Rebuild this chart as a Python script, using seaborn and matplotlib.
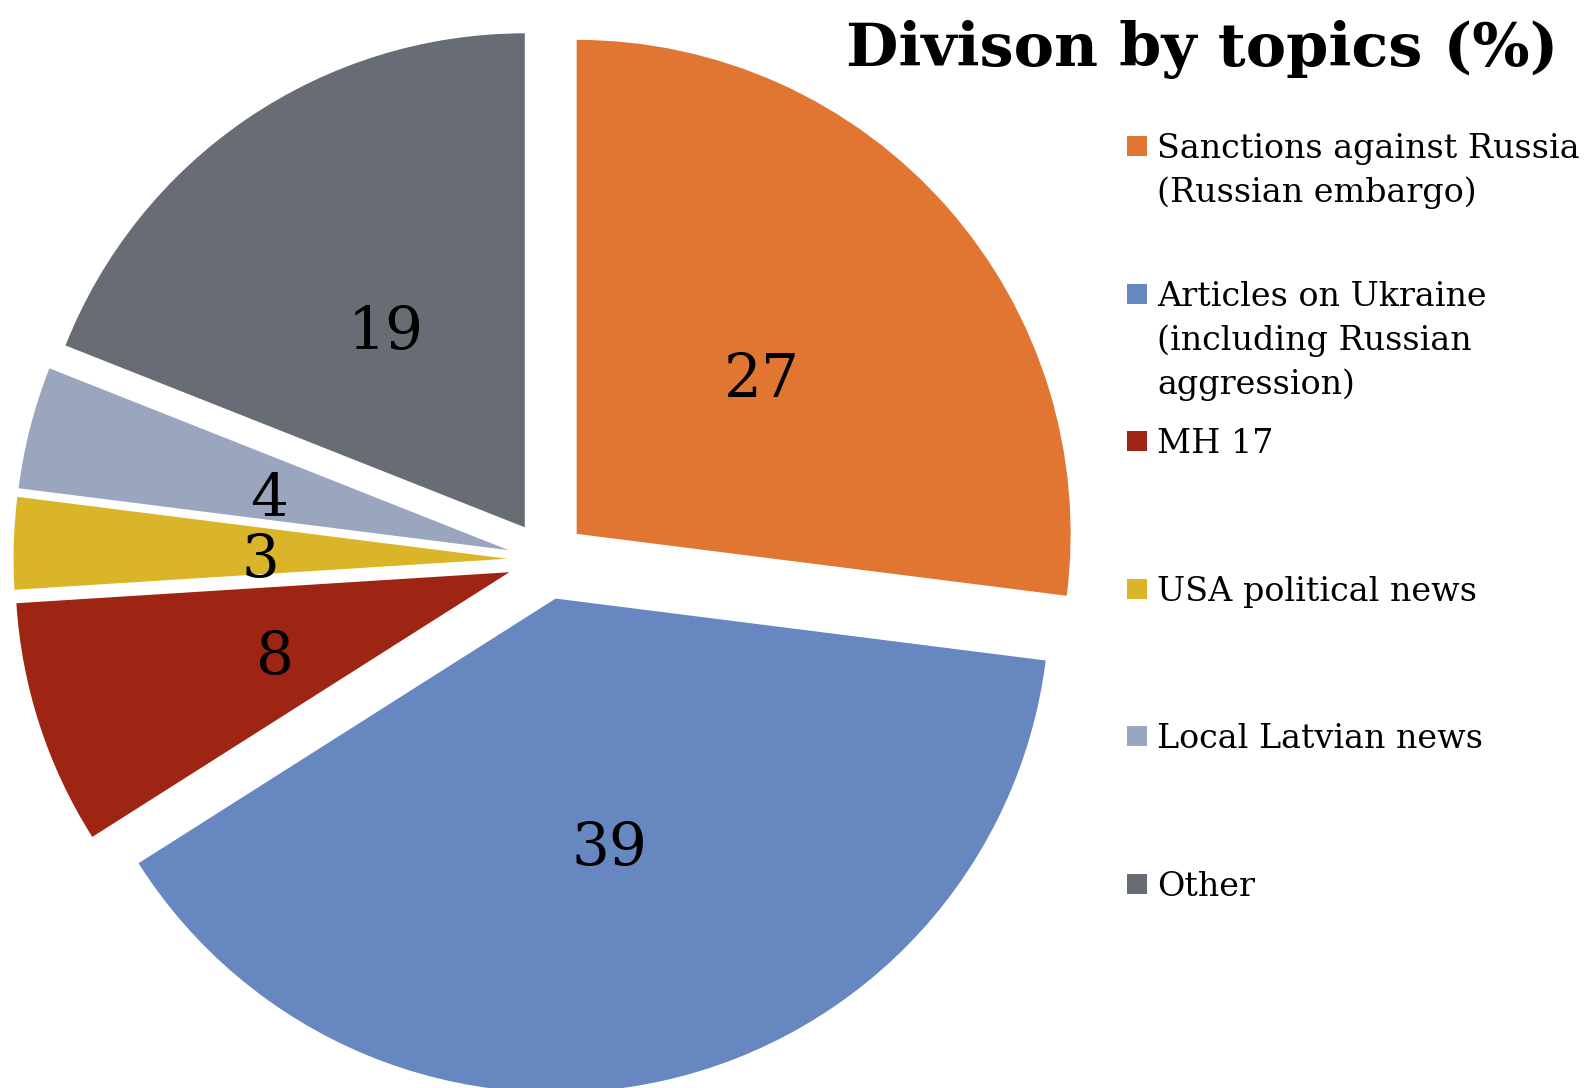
import matplotlib
matplotlib.use("Agg")
import matplotlib.pyplot as plt
from matplotlib.patches import Rectangle
import seaborn as sns

# ---- data ----
categories = [
    "Sanctions against Russia\n(Russian embargo)",
    "Articles on Ukraine\n(including Russian\naggression)",
    "MH 17",
    "USA political news",
    "Local Latvian news",
    "Other",
]
values = [27, 39, 8, 3, 4, 19]
colors = ["#E07632", "#6787C0", "#9E2414", "#DAB52A", "#9AA5BE", "#686C74"]
title = "Divison by topics (%)"

sns.set_theme(style="white")
plt.rcParams["font.family"] = ["DejaVu Serif", "DejaVu Sans"]
plt.rcParams["text.color"] = "black"

W, H = 1588, 1088
fig = plt.figure(figsize=(W / 100, H / 100), dpi=100)
fig.patch.set_facecolor("white")

# pie axes: 494 px per data unit, pie centre at pixel (547, 560)
R = 494.0
cx, cy = 547.0, 560.0
ax = fig.add_axes([0, 0, 1, 1])
wedges, texts, autotexts = ax.pie(
    values,
    colors=sns.color_palette(colors),
    startangle=90,
    counterclock=False,
    explode=[0.08] * len(values),
    autopct=lambda p: f"{p:.0f}",
    pctdistance=0.5,
    wedgeprops=dict(linewidth=0),
    textprops=dict(fontsize=43, color="black"),
)
for t in autotexts:
    x, y = t.get_position()
    t.set_position((x, y - 0.02))
ax.set_aspect("auto")
ax.set_xlim(-cx / R, (W - cx) / R)
ax.set_ylim((cy - H) / R, cy / R)
ax.axis("off")

# overlay axes in pixel coordinates (y down)
ov = fig.add_axes([0, 0, 1, 1], facecolor="none")
ov.set_xlim(0, W)
ov.set_ylim(H, 0)
ov.axis("off")

renderer = fig.canvas.get_renderer()


def fit_text(x, y, s, width, size0, **kw):
    t = ov.text(x, y, s, fontsize=size0, **kw)
    bb = t.get_window_extent(renderer=renderer)
    t.set_fontsize(size0 * width / bb.width)
    return t


# title
fit_text(846, 66, title, 712, 44, ha="left", va="baseline",
         fontweight="bold", color="black")

# legend
x_sq, sq = 1127, 20
x_txt = 1157
top0, step, lh = 146, 147.6, 44
tmp = ov.text(0, 0, "Sanctions against Russia", fontsize=24)
bw = tmp.get_window_extent(renderer=renderer).width
tmp.remove()
leg_size = 24 * 424 / bw
for i, (lab, col) in enumerate(zip(categories, colors)):
    yc = top0 + step * i
    ov.add_patch(Rectangle((x_sq, yc - sq / 2), sq, sq, facecolor=col, edgecolor="none"))
    for k, line in enumerate(lab.split("\n")):
        ov.text(x_txt, yc + 12 + lh * k, line, fontsize=leg_size,
                ha="left", va="baseline", color="black")

fig.savefig("out.png", dpi=100, facecolor="white")
